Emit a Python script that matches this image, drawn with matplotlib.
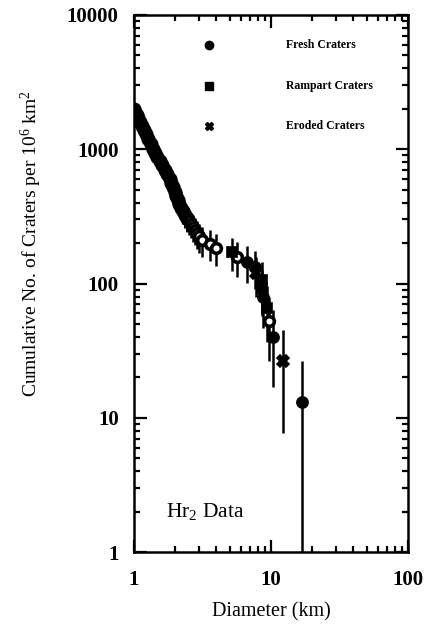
import numpy as np
import matplotlib
matplotlib.use("Agg")
import matplotlib.pyplot as plt
from matplotlib.ticker import LogLocator, NullFormatter, FixedLocator

plt.rcParams['font.family'] = ['Liberation Serif', 'DejaVu Serif']
plt.rcParams['mathtext.fontset'] = 'custom'
plt.rcParams['mathtext.rm'] = 'Liberation Serif'
plt.rcParams['mathtext.default'] = 'regular'

# ---- data ----
# dense part of the curve (fresh + rampart craters, overlapping)
dense_D = [1.00, 1.023, 1.049, 1.077, 1.107, 1.14, 1.175, 1.218, 1.265, 1.32,
           1.38, 1.428, 1.48, 1.537, 1.60, 1.675, 1.744, 1.82, 1.867, 1.92,
           1.983, 2.03, 2.088, 2.148, 2.21, 2.275, 2.355, 2.425]
dense_N = [2000, 1900, 1800, 1700, 1600, 1500, 1400, 1300, 1200, 1100,
           1000, 940, 880, 820, 760, 700, 650, 600, 560, 520,
           480, 450, 420, 390, 365, 345, 325, 310]

# open-looking circles
open_D = [2.45, 2.51, 2.60, 2.70, 2.78, 2.90, 3.00, 3.15, 3.60, 4.00, 5.69, 9.7]
open_N = [304, 290, 277, 264, 251, 238, 224, 211, 198, 185, 158, 53]

fresh_D = [6.66, 7.6, 8.69, 10.3, 16.9]
fresh_N = [145, 132, 79, 40, 13.2]

rampart_D = [5.23, 8.55, 8.6, 9.35]
rampart_N = [172, 106, 92, 66]

eroded_D = [7.76, 12.2]
eroded_N = [119, 26.4]

N_PER_CRATER = 13.2   # density represented by one crater

fig = plt.figure(figsize=(4.27, 6.24), dpi=100)
ax = fig.add_axes([134/427, 72/624, 274/427, 537/624])
ax.set_xscale('log')
ax.set_yscale('log')
ax.set_xlim(1, 100)
ax.set_ylim(1, 10000)


def draw(D, N, marker, mfc='black', ms=6, mew=1.2, elw=1.8):
    D = np.array(D, float)
    N = np.array(N, float)
    err = np.sqrt(N * N_PER_CRATER)
    lower = np.minimum(err, N - 0.5)
    ax.errorbar(D, N, yerr=[lower, err], fmt='none', ecolor='black',
                elinewidth=elw, capsize=0, zorder=2)
    ax.plot(D, N, linestyle='none', marker=marker, mfc=mfc, mec='black',
            ms=ms, mew=mew, zorder=3)


draw(dense_D, dense_N, 'o', ms=9, elw=2.2)
draw(open_D, open_N, 'o', mfc='white', ms=7, mew=2.6)
draw(fresh_D, fresh_N, 'o', ms=8)
draw(rampart_D, rampart_N, 's', ms=7)
draw(eroded_D, eroded_N, 'X', ms=9)

# legend (drawn in the plot)
leg_y = [0.9445, 0.867, 0.793]
leg_m = ['o', 's', 'X']
leg_t = ['Fresh Craters', 'Rampart Craters', 'Eroded Craters']
for yy, m, t in zip(leg_y, leg_m, leg_t):
    ax.plot([0.275], [yy], transform=ax.transAxes, marker=m, color='black',
            ms=6, linestyle='none', clip_on=False)
    ax.text(0.555, yy, t, transform=ax.transAxes, fontsize=8.5,
            fontweight='bold', va='center', ha='left')

ax.text(0.115, 0.075, 'Hr$_2$ Data', transform=ax.transAxes, fontsize=15.5,
        va='center', ha='left')

# axes styling
for s in ax.spines.values():
    s.set_linewidth(1.8)
ax.tick_params(which='both', direction='in', top=True, right=True, width=1.6)
ax.tick_params(which='major', length=9, labelsize=15)
ax.tick_params(axis='x', which='major', pad=13)
ax.tick_params(axis='y', which='major', pad=11)
ax.tick_params(which='minor', length=4.5)
ax.xaxis.set_major_locator(FixedLocator([1, 10, 100]))
ax.yaxis.set_major_locator(FixedLocator([1, 10, 100, 1000, 10000]))
ax.xaxis.set_minor_locator(LogLocator(base=10, subs=np.arange(2, 10)))
ax.yaxis.set_minor_locator(LogLocator(base=10, subs=np.arange(2, 10)))
ax.xaxis.set_minor_formatter(NullFormatter())
ax.yaxis.set_minor_formatter(NullFormatter())
ax.set_xticklabels(['1', '10', '100'], fontweight='bold')
ax.set_yticklabels(['1', '10', '100', '1000', '10000'], fontweight='bold')

ax.set_xlabel('Diameter (km)', fontsize=14.5, labelpad=9)
ax.set_ylabel('Cumulative No. of Craters per 10$^{6}$ km$^{2}$', fontsize=14)
ax.yaxis.set_label_coords(-0.33, 0.574)

fig.savefig('out.png', dpi=100)
